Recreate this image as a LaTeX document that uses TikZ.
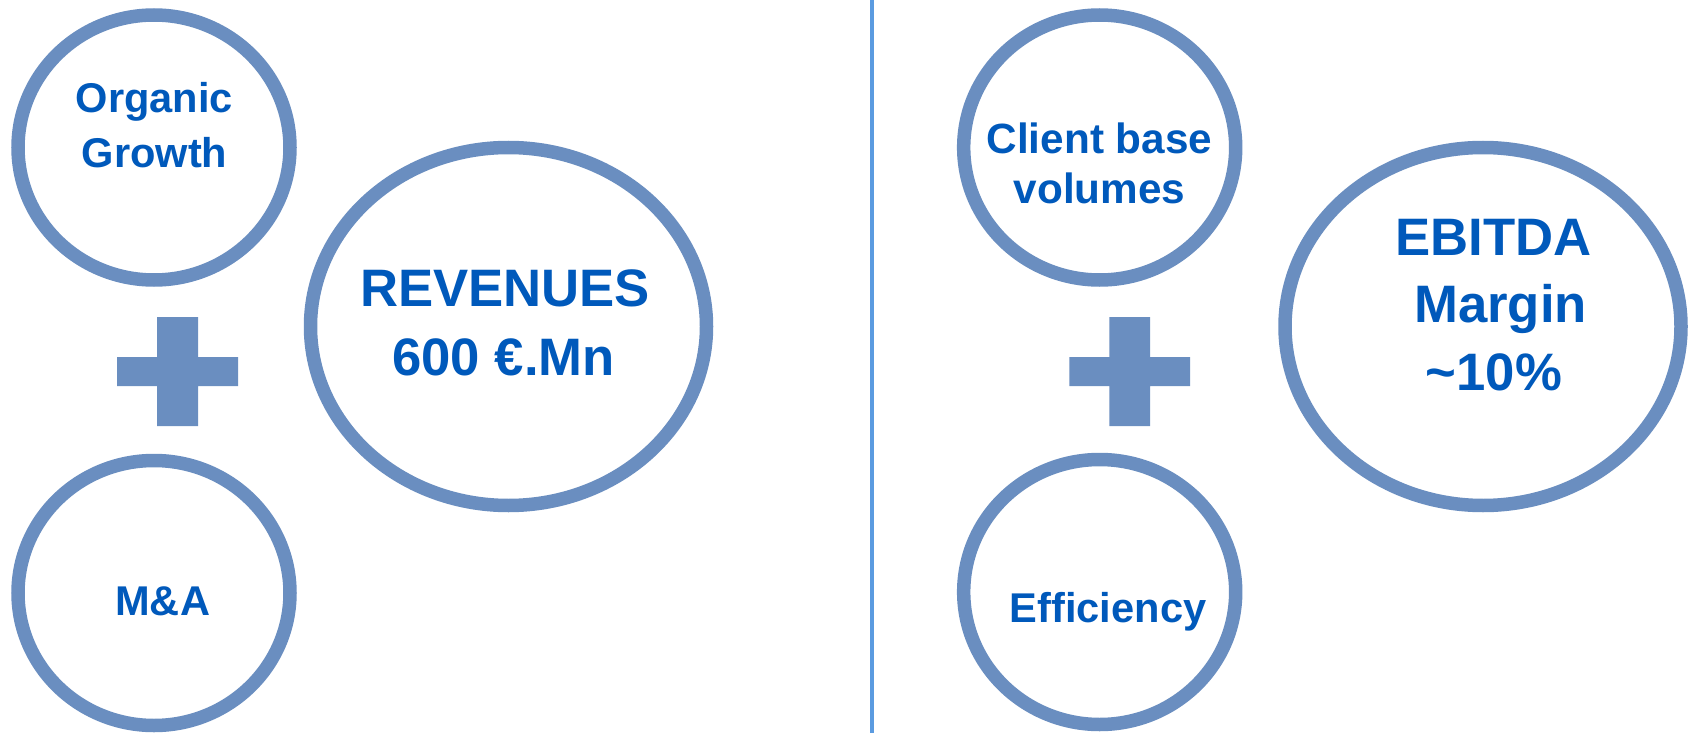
\documentclass[tikz,border=0pt]{standalone}
\usepackage{fontspec}
\setmainfont{Liberation Sans}
\usetikzlibrary{shapes.geometric}
\definecolor{ringblue}{HTML}{6A8EC0}
\definecolor{textblue}{HTML}{0059BB}
\definecolor{rulecol}{HTML}{5B9BE0}
\tikzset{
  ring/.style={ellipse, draw=ringblue, line width=13.5pt, inner sep=0pt, fill=white},
  smallring/.style={ring, minimum width=272pt, minimum height=265pt},
  bigring/.style={ring, minimum width=396pt, minimum height=358pt},
  lbl/.style={anchor=base, inner sep=0pt, text=textblue, font=\bfseries\fontsize{41.6}{49}\selectfont},
  biglbl/.style={lbl, font=\bfseries\fontsize{52.7}{60}\selectfont},
  plussign/.style={fill=ringblue}
}
\begin{document}
\begin{tikzpicture}[x=1pt, y=-1pt]
\useasboundingbox (0,0) rectangle (1690,733);

% divider between the two halves
\coordinate (divtop) at (872,0);
\coordinate (divbot) at (872,733);
\draw[rulecol, line width=4pt] (divtop) -- (divbot);

% left half: revenue drivers
\node[smallring] (organic) at (154,147.5) {};
\node[smallring] (ma) at (154,593) {};
\node[bigring] (revenues) at (508.5,326.5) {};

\node[lbl] (organic1) at (154.5,112.7) {Organic};
\node[lbl] (organic2) at (154.5,167.7) {Growth};
\node[lbl] (matext) at (162.7,615) {M\&A};
\node[biglbl] (rev1) at (505,306.7) {REVENUES};
\node[biglbl] (rev2) at (503.5,375) {600 €.Mn};

\fill[plussign] (157,317) -- (198,317) -- (198,357) -- (238,357) -- (238,386)
  -- (198,386) -- (198,426) -- (157,426) -- (157,386) -- (117,386)
  -- (117,357) -- (157,357) -- cycle;

% right half: margin drivers
\node[smallring] (client) at (1099.7,147.5) {};
\node[smallring] (efficiency) at (1099.7,592) {};
\node[bigring] (ebitda) at (1483,326.5) {};

\node[lbl, font=\bfseries\fontsize{42.3}{50}\selectfont] (client1) at (1099.5,154) {Client base};
\node[lbl, font=\bfseries\fontsize{42.3}{50}\selectfont] (client2) at (1099.5,204) {volumes};
\node[lbl] (efftext) at (1108,622.7) {Efficiency};
\node[biglbl] (ebitda1) at (1493.7,255) {EBITDA};
\node[biglbl] (ebitda2) at (1500.5,322.7) {Margin};
\node[biglbl] (ebitda3) at (1494,390) {\textasciitilde 10\%};

\fill[plussign] (1109.3,317) -- (1150,317) -- (1150,357) -- (1190,357) -- (1190,386)
  -- (1150,386) -- (1150,426) -- (1109.3,426) -- (1109.3,386) -- (1069.3,386)
  -- (1069.3,357) -- (1109.3,357) -- cycle;
\end{tikzpicture}
\end{document}
